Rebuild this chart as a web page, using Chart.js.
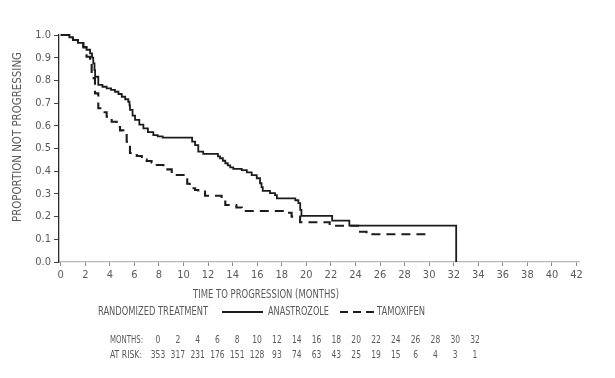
<!DOCTYPE html>
<html>
<head>
<meta charset="utf-8">
<script src="https://cdn.jsdelivr.net/npm/chart.js@4"></script>
<style>
  html, body { margin: 0; padding: 0; background: #fff; }
  #wrap { width: 615px; height: 378px; position: relative; }
</style>
</head>
<body>
<div id="wrap"><canvas id="c" width="615" height="378"></canvas></div>
<script>
// ---- Data ----
const xTicks = [0,2,4,6,8,10,12,14,16,18,20,22,24,26,28,30,32,34,36,38,40,42];
const yTicks = [0,0.1,0.2,0.3,0.4,0.5,0.6,0.7,0.8,0.9,1.0];

const anaTimes = [0,0.7,1.0,1.4,1.84,2.1,2.39,2.55,2.65,2.75,2.8,3.06,3.4,3.74,4.1,4.42,4.7,4.97,5.25,5.5,5.6,5.64,5.85,6.05,6.4,6.73,7.1,7.54,7.9,8.3,10.7,10.94,11.2,11.6,12.8,12.97,13.2,13.4,13.6,13.8,14.05,14.74,15.15,15.55,15.96,16.23,16.35,16.45,17.04,17.45,17.6,19.1,19.35,19.5,19.6,22.1,23.5,32.2];
const anaValues = [1.0,0.99,0.978,0.965,0.948,0.935,0.919,0.9,0.875,0.845,0.816,0.78,0.772,0.765,0.758,0.75,0.74,0.728,0.717,0.706,0.69,0.67,0.645,0.626,0.605,0.589,0.572,0.559,0.553,0.548,0.53,0.515,0.486,0.476,0.465,0.457,0.446,0.435,0.426,0.417,0.41,0.405,0.395,0.383,0.369,0.347,0.33,0.313,0.303,0.295,0.28,0.272,0.259,0.23,0.203,0.182,0.16,0.0];

const tamTimes = [0,0.7,1.0,1.4,1.84,2.1,2.39,2.52,2.79,3.06,3.4,3.74,4.15,4.56,4.83,5.1,5.37,5.64,6.19,6.6,7.0,7.4,7.82,8.36,9.04,9.45,10.12,10.3,10.5,10.94,11.2,11.75,13.1,13.4,14.3,14.74,18.4,18.8,19.49,21.9,24.37,24.9,29.75];
const tamValues = [1.0,0.99,0.978,0.965,0.945,0.904,0.875,0.81,0.743,0.677,0.66,0.64,0.618,0.595,0.58,0.567,0.53,0.48,0.467,0.452,0.445,0.438,0.427,0.408,0.39,0.383,0.364,0.345,0.325,0.317,0.31,0.292,0.28,0.251,0.24,0.225,0.217,0.2,0.175,0.16,0.133,0.122,0.122];

const seriesNames = ["ANASTROZOLE", "TAMOXIFEN"];
const legendTitle = "RANDOMIZED TREATMENT";
const xTitle = "TIME TO PROGRESSION (MONTHS)";
const yTitle = "PROPORTION NOT PROGRESSING";
const riskMonths = ["0","2","4","6","8","10","12","14","16","18","20","22","24","26","28","30","32"];
const riskCounts = ["353","317","231","176","151","128","93","74","63","43","25","19","15","6","4","3","1"];
const riskLabels = ["MONTHS:", "AT RISK:"];

// ---- Rendering ----
const TEXT = '#5a5a5a';
const INK = '#1c1c1c';

// pick a condensed family if one is installed
function pickFamily() {
  const c = document.createElement('canvas').getContext('2d');
  const probe = 'PROPORTION 0123456789';
  c.font = '20px monospace';
  const mono = c.measureText(probe).width;
  const cands = ['Liberation Sans Narrow', 'DejaVu Sans Condensed', 'Roboto Condensed', 'Open Sans Condensed'];
  for (const f of cands) {
    c.font = "20px '" + f + "', monospace";
    if (Math.abs(c.measureText(probe).width - mono) > 0.5) return "'" + f + "', 'Liberation Sans', sans-serif";
  }
  return "'Liberation Sans', Arial, sans-serif";
}
const FAMILY = pickFamily();

function pts(xs, ys) { return xs.map((x, i) => ({ x: x, y: ys[i] })); }

// draw text with given font size, horizontally squeezed to a target width
function fitText(ctx, text, x, y, width, size, align) {
  ctx.font = size + 'px ' + FAMILY;
  const w = ctx.measureText(text).width;
  const sx = width / w;
  ctx.save();
  ctx.translate(x, y);
  ctx.scale(sx, 1);
  ctx.textAlign = align || 'left';
  ctx.fillText(text, 0, 0);
  ctx.restore();
}

const textPlugin = {
  id: 'kmText',
  afterDraw(chart) {
    const ctx = chart.ctx;
    ctx.save();
    ctx.fillStyle = TEXT;
    ctx.textBaseline = 'middle';

    // y-axis title
    ctx.save();
    ctx.translate(18, 137);
    ctx.rotate(-Math.PI / 2);
    fitText(ctx, yTitle, 0, 0, 170, 12, 'center');
    ctx.restore();

    // x-axis title
    fitText(ctx, xTitle, 266, 295, 146, 11.5, 'center');

    // legend
    const ly = 312;
    fitText(ctx, legendTitle, 98, ly, 110, 11.5, 'left');
    ctx.strokeStyle = INK;
    ctx.lineWidth = 1.8;
    ctx.beginPath(); ctx.moveTo(222, ly); ctx.lineTo(263, ly); ctx.stroke();
    fitText(ctx, seriesNames[0], 268, ly, 61, 11.5, 'left');
    ctx.lineWidth = 2.2;
    ctx.setLineDash([8, 5]);
    ctx.beginPath(); ctx.moveTo(340, ly); ctx.lineTo(374, ly); ctx.stroke();
    ctx.setLineDash([]);
    fitText(ctx, seriesNames[1], 377, ly, 48, 11.5, 'left');

    // at-risk table
    const rowY = [340, 355];
    fitText(ctx, riskLabels[0], 110, rowY[0], 33, 10.5, 'left');
    fitText(ctx, riskLabels[1], 110, rowY[1], 32, 10.5, 'left');
    const x0 = 158, step = (475 - 158) / (riskMonths.length - 1);
    ctx.textAlign = 'center';
    ctx.font = '10.5px ' + FAMILY;
    const squeeze = 0.8;
    riskMonths.forEach((m, i) => {
      ctx.save(); ctx.translate(x0 + i * step, rowY[0]); ctx.scale(squeeze, 1); ctx.fillText(m, 0, 0); ctx.restore();
    });
    riskCounts.forEach((n, i) => {
      ctx.save(); ctx.translate(x0 + i * step, rowY[1]); ctx.scale(squeeze, 1); ctx.fillText(n, 0, 0); ctx.restore();
    });
    ctx.restore();
  }
};

new Chart(document.getElementById('c'), {
  type: 'line',
  data: {
    datasets: [
      {
        label: seriesNames[0],
        data: pts(anaTimes, anaValues),
        borderColor: INK,
        borderWidth: 1.8,
        stepped: true,
        pointRadius: 0,
        fill: false,
        clip: 6
      },
      {
        label: seriesNames[1],
        data: pts(tamTimes, tamValues),
        borderColor: INK,
        borderWidth: 2.1,
        borderDash: [9, 6],
        stepped: true,
        pointRadius: 0,
        fill: false,
        clip: 6
      }
    ]
  },
  options: {
    responsive: false,
    animation: false,
    devicePixelRatio: 1,
    layout: { padding: { left: 0, top: 35, right: 36, bottom: 0 } },
    plugins: { legend: { display: false }, tooltip: { enabled: false }, title: { display: false } },
    scales: {
      x: {
        type: 'linear',
        min: -0.14,
        max: 42.2,
        afterBuildTicks: s => { s.ticks = xTicks.map(v => ({ value: v })); },
        afterFit: s => { s.height = 116; },
        border: { display: true, color: '#b8b8b8', width: 1.2 },
        grid: { drawOnChartArea: false, drawTicks: true, tickLength: 4, color: '#8a8a8a', lineWidth: 1 },
        ticks: {
          color: TEXT,
          padding: 3,
          maxRotation: 0,
          autoSkip: false,
          font: { family: FAMILY, size: 11 },
          callback: v => String(v)
        }
      },
      y: {
        type: 'linear',
        min: 0,
        max: 1,
        afterBuildTicks: s => { s.ticks = yTicks.map(v => ({ value: v })); },
        afterFit: s => { s.width = 59; },
        border: { display: true, color: '#2a2a2a', width: 1.3 },
        grid: { drawOnChartArea: false, drawTicks: true, tickLength: 5, color: '#444', lineWidth: 1 },
        ticks: {
          color: TEXT,
          padding: 3,
          autoSkip: false,
          font: { family: FAMILY, size: 11 },
          callback: v => v.toFixed(1)
        }
      }
    }
  },
  plugins: [textPlugin]
});
</script>
</body>
</html>
